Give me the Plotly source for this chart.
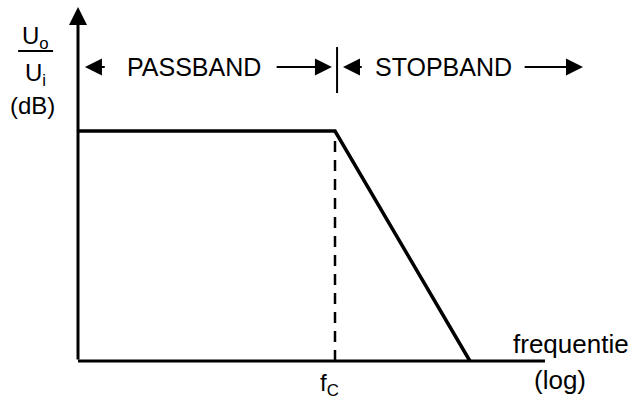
import plotly.graph_objects as go

# --- data (normalised schematic units: x = log frequency, corner at 1; y = gain, passband = 1)
response_freq = [0.0, 1.0, 1.525]
response_gain = [1.0, 1.0, 0.0]
corner_freq = 1.0
axis_x_end = 1.817
axis_y_top = 1.539
band_labels = ["PASSBAND", "STOPBAND"]
x_label = "frequentie"
x_label2 = "(log)"
corner_label = "f<sub>C</sub>"
y_label_num = "U<sub>o</sub>"
y_label_den = "U<sub>i</sub>"
y_label_unit = "(dB)"

FONT = "Liberation Sans, Arial, sans-serif"
BLACK = "#000000"

fig = go.Figure()

# horizontal axis
fig.add_trace(go.Scatter(x=[0, axis_x_end], y=[0, 0], mode="lines",
                         line=dict(color=BLACK, width=3), hoverinfo="skip"))
# dashed corner line
fig.add_trace(go.Scatter(x=[corner_freq, corner_freq], y=[0, response_gain[1]], mode="lines",
                         line=dict(color=BLACK, width=2.5, dash="11px,8px"), hoverinfo="skip"))
# response
fig.add_trace(go.Scatter(x=response_freq, y=response_gain, mode="lines",
                         line=dict(color=BLACK, width=3.5), hoverinfo="skip"))
# band separator
fig.add_trace(go.Scatter(x=[1.008, 1.008], y=[1.165, 1.365], mode="lines",
                         line=dict(color=BLACK, width=2), hoverinfo="skip"))

ann = []
# vertical axis with arrow
ann.append(dict(x=0, y=axis_y_top, ax=0, ay=0, xref="x", yref="y", axref="x", ayref="y",
                text="", showarrow=True, arrowhead=2, arrowsize=1.2, arrowwidth=3, arrowcolor=BLACK))

arrow_y = 1.278
def arrow(tip, tail):
    ann.append(dict(x=tip, y=arrow_y, ax=tail, ay=arrow_y, xref="x", yref="y", axref="x", ayref="y",
                    text="", showarrow=True, arrowhead=2, arrowsize=1.7, arrowwidth=2, arrowcolor=BLACK))

arrow(0.027, 0.110)
arrow(0.988, 0.767)
arrow(1.031, 1.110)
arrow(1.965, 1.732)

def label(x, y, text, size=24, xanchor="center"):
    ann.append(dict(x=x, y=y, xref="x", yref="y", text=text, showarrow=False,
                    xanchor=xanchor, yanchor="middle",
                    font=dict(family=FONT, size=size, color=BLACK)))

label(0.451, arrow_y, band_labels[0], size=25)
label(1.422, arrow_y, band_labels[1], size=25)
label(1.918, 0.075, x_label, size=26)
label(1.875, -0.083, x_label2, size=26)
label(0.977, -0.100, corner_label)
label(-0.167, 1.405, y_label_num)
label(-0.167, 1.245, y_label_den)
label(-0.179, 1.113, y_label_unit)

fig.add_shape(type="line", x0=-0.233, x1=-0.097, y0=1.348, y1=1.348, xref="x", yref="y",
              line=dict(color=BLACK, width=2))

fig.update_layout(
    annotations=ann,
    width=644, height=401,
    margin=dict(l=0, r=0, t=0, b=0),
    paper_bgcolor="white", plot_bgcolor="white",
    showlegend=False,
    xaxis=dict(range=[-78 / 257, 566 / 257], visible=False, fixedrange=True),
    yaxis=dict(range=[-40 / 230, 361 / 230], visible=False, fixedrange=True),
)

fig.write_html("out.html", config={"displayModeBar": False},
               post_script="document.body.style.margin='0';document.body.style.overflow='hidden';")
